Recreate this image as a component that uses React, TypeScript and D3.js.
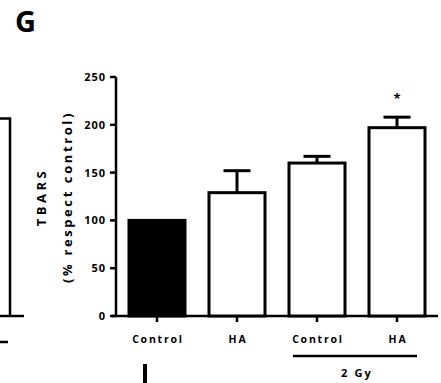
import React from "react";
import * as d3 from "d3";

const categories = ["Control", "HA", "Control2", "HA2"];
const tickLabels = ["Control", "HA", "Control", "HA"];
const means = [100, 129, 160, 197];
const errors = [0, 23, 7, 11];
const fills = ["#000", "#fff", "#fff", "#fff"];
const yTicks = [0, 50, 100, 150, 200, 250];
const significance = ["", "", "", "*"];

const font = "'Open Sans', 'DejaVu Sans', sans-serif";

export default function App() {
  const W = 441, H = 383;
  const y = d3.scaleLinear().domain([0, 250]).range([316, 77]);
  const x = d3.scaleBand().domain(categories).range([117, 437]).paddingInner(0.3).paddingOuter(0.15);
  const bw = x.bandwidth();
  const cx = (c: string) => (x(c) as number) + bw / 2;
  return (
    <svg width={W} height={H} style={{ position: "absolute", left: 0, top: 0 }} fontFamily={font}>
      <rect width={W} height={H} fill="#fff" />
      {/* panel label */}
      <text x={15} y={32} fontSize={29} fontWeight={700}>G</text>
      {/* partial left panel */}
      <path d="M0,118.5 H10 V316" fill="none" stroke="#000" strokeWidth={2.5} />
      <line x1={0} x2={24} y1={316} y2={316} stroke="#000" strokeWidth={2.5} />
      <line x1={0} x2={8} y1={342} y2={342} stroke="#000" strokeWidth={2.5} />
      {/* partial I label */}
      <rect x={143} y={364} width={4} height={19} fill="#000" />

      {/* y axis */}
      <line x1={116} x2={116} y1={y(250)} y2={y(0)} stroke="#000" strokeWidth={2.5} />
      {yTicks.map((t) => (
        <g key={t}>
          <line x1={110} x2={116} y1={y(t)} y2={y(t)} stroke="#000" strokeWidth={2.5} />
          <text x={106} y={y(t)} dy="0.36em" textAnchor="end" fontSize={11} fontWeight={700} letterSpacing={1}>{t}</text>
        </g>
      ))}
      {/* x axis */}
      <line x1={112} x2={438} y1={y(0)} y2={y(0)} stroke="#000" strokeWidth={2.5} />
      {categories.map((c, i) => (
        <g key={c}>
          <line x1={cx(c)} x2={cx(c)} y1={y(0)} y2={y(0) + 6} stroke="#000" strokeWidth={2.5} />
          <text x={cx(c) + 1} y={343} textAnchor="middle" fontSize={10.5} fontWeight={700} letterSpacing={1.8}>{tickLabels[i]}</text>
        </g>
      ))}
      {/* error bars */}
      {categories.map((c, i) =>
        errors[i] > 0 ? (
          <g key={"e" + c} stroke="#000" strokeWidth={3}>
            <line x1={cx(c)} x2={cx(c)} y1={y(means[i])} y2={y(means[i] + errors[i])} />
            <line x1={cx(c) - 13.5} x2={cx(c) + 13.5} y1={y(means[i] + errors[i])} y2={y(means[i] + errors[i])} />
          </g>
        ) : null
      )}
      {/* bars */}
      {categories.map((c, i) => (
        <rect key={"b" + c} x={x(c) as number} y={y(means[i])} width={bw} height={y(0) - y(means[i])}
          fill={fills[i]} stroke="#000" strokeWidth={3} />
      ))}
      {categories.map((c, i) =>
        significance[i] ? (
          <text key={"s" + c} x={cx(c)} y={103} textAnchor="middle" fontSize={13} fontWeight={700}>{significance[i]}</text>
        ) : null
      )}
      {/* 2 Gy group */}
      <line x1={293} x2={417} y1={356} y2={356} stroke="#000" strokeWidth={2.5} />
      <text x={357} y={377} textAnchor="middle" fontSize={11} fontWeight={700} letterSpacing={2.2}>2 Gy</text>
      {/* y axis title */}
      <text transform="translate(46,197) rotate(-90)" textAnchor="middle" fontSize={13} fontWeight={700} letterSpacing={3.5}>TBARS</text>
      <text transform="translate(72,197) rotate(-90)" textAnchor="middle" fontSize={13} fontWeight={700} letterSpacing={2.6}>(% respect control)</text>
    </svg>
  );
}
